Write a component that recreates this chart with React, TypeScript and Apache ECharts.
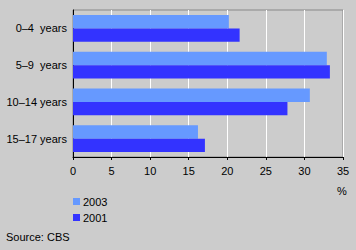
import React, { useEffect, useRef } from "react";
import * as echarts from "echarts";

const categories = ["0–4  years", "5–9  years", "10–14 years", "15–17 years"];
const series2003 = [20.2, 32.9, 30.7, 16.2];
const series2001 = [21.6, 33.3, 27.8, 17.1];
const xTicks = [0, 5, 10, 15, 20, 25, 30, 35];

export default function App() {
  const ref = useRef<HTMLDivElement>(null);
  useEffect(() => {
    if (!ref.current) return;
    const chart = echarts.init(ref.current, null, { renderer: "svg" });
    const font = "Liberation Sans, Arial, sans-serif";
    chart.setOption({
      animation: false,
      backgroundColor: "#cccccc",
      textStyle: { fontFamily: font },
      grid: {
        left: 73,
        top: 10,
        width: 270,
        height: 147,
        show: true,
        borderColor: "#888888",
        borderWidth: 1,
        backgroundColor: "transparent",
      },
      legend: {
        orient: "vertical",
        left: 68,
        top: 191,
        itemWidth: 7,
        itemHeight: 7,
        itemGap: 5,
        icon: "rect",
        data: ["2003", "2001"],
        textStyle: { fontSize: 11, color: "#000", fontFamily: font, padding: [0, 0, 0, -2] },
      },
      xAxis: {
        type: "value",
        min: 0,
        max: 35,
        interval: 5,
        axisLine: { show: true, lineStyle: { color: "#000", width: 1 } },
        axisTick: { show: true, length: 3, lineStyle: { color: "#000" } },
        axisLabel: {
          color: "#000",
          fontSize: 11,
          fontFamily: font,
          margin: 8,
          formatter: (v: number) => (xTicks.includes(v) ? String(v) : ""),
        },
        splitLine: { show: true, lineStyle: { color: "#ffffff", width: 1 } },
      },
      yAxis: {
        type: "category",
        data: categories,
        inverse: true,
        axisLine: { show: true, lineStyle: { color: "#000", width: 1 } },
        axisTick: { show: false },
        axisLabel: { color: "#000", fontSize: 11, fontFamily: font, margin: 6 },
      },
      graphic: [
        {
          type: "text",
          left: 337,
          top: 185,
          style: { text: "%", fontSize: 11, fill: "#000", fontFamily: font },
        },
        {
          type: "text",
          left: 6,
          top: 231,
          style: { text: "Source: CBS", fontSize: 11, fill: "#000", fontFamily: font },
        },
      ],
      series: [
        {
          name: "2003",
          type: "bar",
          data: series2003,
          itemStyle: { color: "#6699ff" },
          barGap: "0%",
          barCategoryGap: "27%",
        },
        {
          name: "2001",
          type: "bar",
          data: series2001,
          itemStyle: { color: "#3333ff" },
          barGap: "0%",
          barCategoryGap: "27%",
        },
      ],
    });
    return () => chart.dispose();
  }, []);
  return (
    <div
      ref={ref}
      style={{ position: "absolute", left: 0, top: 0, width: 356, height: 250 }}
    />
  );
}
